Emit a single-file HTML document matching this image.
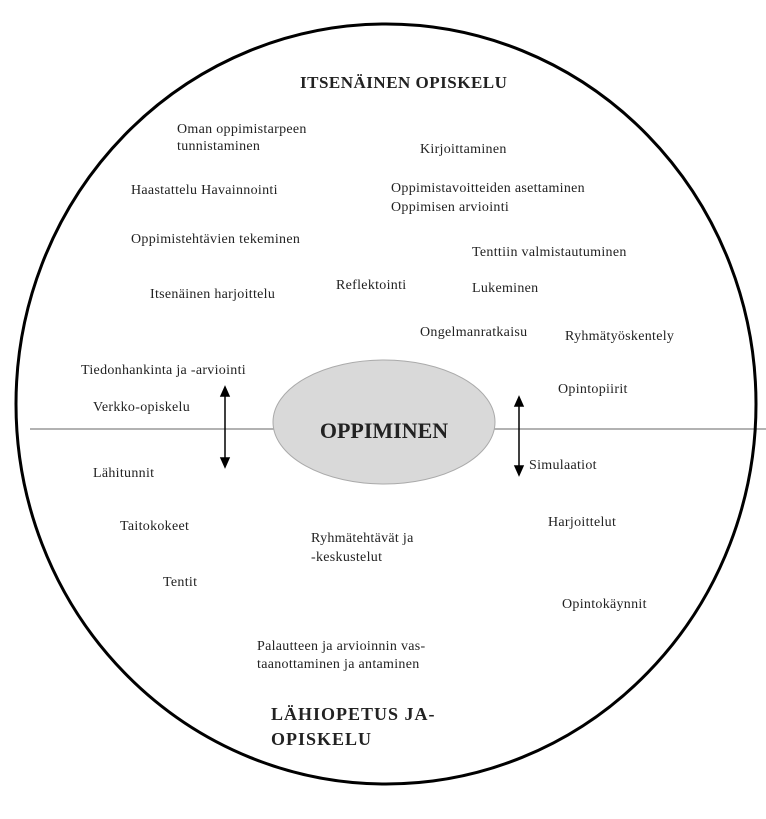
<!DOCTYPE html>
<html><head><meta charset="utf-8"><style>
html,body{margin:0;padding:0;background:#fff;}
svg text{font-family:"Liberation Serif",serif;fill:#222;}
</style></head><body>
<svg width="766" height="814" viewBox="0 0 766 814" xmlns="http://www.w3.org/2000/svg">
<line x1="30" y1="429" x2="766" y2="429" stroke="#999" stroke-width="1.5"/>
<ellipse cx="386" cy="404" rx="370" ry="380" fill="none" stroke="#000" stroke-width="3"/>
<ellipse cx="384" cy="422" rx="111" ry="62" fill="#d9d9d9" stroke="#aaa" stroke-width="1"/>
<text x="384" y="438" font-size="22" font-weight="bold" text-anchor="middle" fill="#000">OPPIMINEN</text>
<g stroke="#000" stroke-width="1.5" fill="#000">
<line x1="225" y1="395" x2="225" y2="460"/>
<polygon points="225,387 221,396 229,396"/>
<polygon points="225,467 221,458 229,458"/>
<line x1="519" y1="405" x2="519" y2="467"/>
<polygon points="519,397 515,406 523,406"/>
<polygon points="519,475 515,466 523,466"/>
</g>
<g font-size="14" letter-spacing="0.3">
<text x="300" y="88" font-size="17" font-weight="bold" letter-spacing="0.5" fill="#111">ITSENÄINEN OPISKELU</text>
<text x="177" y="133">Oman oppimistarpeen</text>
<text x="177" y="150">tunnistaminen</text>
<text x="420" y="153">Kirjoittaminen</text>
<text x="131" y="194">Haastattelu  Havainnointi</text>
<text x="391" y="192">Oppimistavoitteiden asettaminen</text>
<text x="391" y="211">Oppimisen arviointi</text>
<text x="131" y="243">Oppimistehtävien tekeminen</text>
<text x="472" y="256">Tenttiin valmistautuminen</text>
<text x="150" y="298">Itsenäinen  harjoittelu</text>
<text x="336" y="289">Reflektointi</text>
<text x="472" y="292">Lukeminen</text>
<text x="420" y="336">Ongelmanratkaisu</text>
<text x="565" y="340">Ryhmätyöskentely</text>
<text x="81" y="374">Tiedonhankinta ja -arviointi</text>
<text x="558" y="393">Opintopiirit</text>
<text x="93" y="411">Verkko-opiskelu</text>
<text x="93" y="477">Lähitunnit</text>
<text x="529" y="469">Simulaatiot</text>
<text x="120" y="530">Taitokokeet</text>
<text x="548" y="526">Harjoittelut</text>
<text x="311" y="542">Ryhmätehtävät ja</text>
<text x="311" y="561">-keskustelut</text>
<text x="163" y="586">Tentit</text>
<text x="562" y="608">Opintokäynnit</text>
<text x="257" y="650">Palautteen ja arvioinnin vas-</text>
<text x="257" y="668">taanottaminen ja antaminen</text>
<text x="271" y="720" font-size="18" font-weight="bold" letter-spacing="1" fill="#111">LÄHIOPETUS JA-</text>
<text x="271" y="745" font-size="18" font-weight="bold" letter-spacing="1" fill="#111">OPISKELU</text>
</g>
</svg>
</body></html>
